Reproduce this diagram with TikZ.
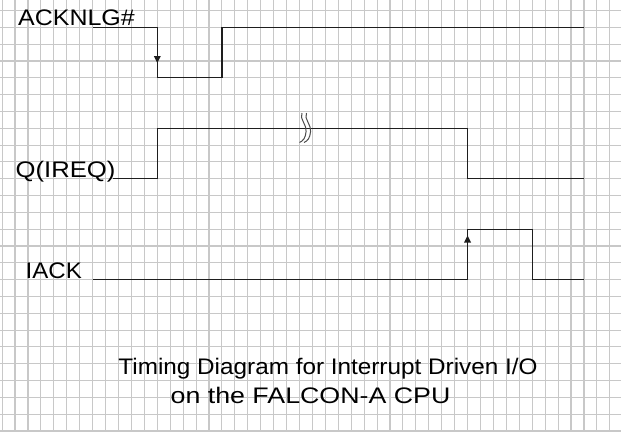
\documentclass[tikz,border=0pt]{standalone}
\usepackage{fontspec}
\usepackage{graphicx}
\setmainfont{Liberation Sans}
\definecolor{gridc}{RGB}{200,200,200}
\definecolor{sigc}{RGB}{30,30,30}
\tikzset{
  gridline/.style={draw=gridc, line width=1.1pt},
  signal/.style={draw=sigc, line width=1.3pt},
  lbl/.style={anchor=base west, inner sep=0pt, font=\fontsize{22.5}{27}\selectfont},
  ttl/.style={anchor=base, inner sep=0pt, font=\fontsize{22.5}{27}\selectfont},
  edgearrow/.style={fill=sigc, draw=none},
  squig/.style={draw=black!70, line width=1pt}
}
\begin{document}
\begin{tikzpicture}[x=1pt,y=-1pt]
\useasboundingbox (0,0) rectangle (621,432);
\fill[white] (0,0) rectangle (621,432);
% grid
\foreach \k in {0,...,47} { \draw[gridline] ({2.1+12.93*\k},0) -- ({2.1+12.93*\k},432); }
\foreach \k in {0,...,25} { \draw[gridline] (0,{10.5+16.82*\k}) -- (621,{10.5+16.82*\k}); }
% labels
\node[lbl] (ackl) at (18,25.7) {\scalebox{1.11}[1]{ACKNLG\#}};
\node[lbl] (ql) at (15.5,177.3) {\scalebox{1.14}[1]{Q(IREQ)}};
\node[lbl] (ial) at (25.5,278) {\scalebox{1.07}[1]{IACK}};
\node[ttl] (t1) at (328,374) {\scalebox{1.08}[1]{Timing Diagram for Interrupt Driven I/O}};
\node[ttl] (t2) at (310.5,403) {\scalebox{1.19}[1]{on the FALCON-A CPU}};
% ACKNLG#
\coordinate (a0) at (92.6,27.3);
\coordinate (a1) at (157.3,27.3);
\coordinate (a2) at (157.3,77.8);
\coordinate (a3) at (221.9,77.8);
\coordinate (a4) at (221.9,27.3);
\coordinate (a5) at (583.9,27.3);
\draw[signal] (a0) -- (a1) -- (a2) -- (a3) -- (a4) -- (a5);
\fill[edgearrow] (153.8,56) -- (160.8,56) -- (157.3,63) -- cycle;
% Q(IREQ)
\coordinate (q0) at (113,178.7);
\coordinate (q1) at (157.3,178.7);
\coordinate (q2) at (157.3,128.2);
\coordinate (q3) at (467.6,128.2);
\coordinate (q4) at (467.6,178.7);
\coordinate (q5) at (583.9,178.7);
\draw[signal] (q0) -- (q1) -- (q2) -- (q3) -- (q4) -- (q5);
\foreach \x in {302,306.5} {
  \draw[squig] (\x,113) .. controls (\x-3,119) and (\x+5,124) .. (\x+4,132)
     .. controls (\x+3.5,138) and (\x+1,141) .. (\x-2.5,142.5);
}
% IACK
\coordinate (i0) at (92.6,279.6);
\coordinate (i1) at (467.6,279.6);
\coordinate (i2) at (467.6,229.2);
\coordinate (i3) at (532.2,229.2);
\coordinate (i4) at (532.2,279.6);
\coordinate (i5) at (583.9,279.6);
\draw[signal] (i0) -- (i1) -- (i2) -- (i3) -- (i4) -- (i5);
\fill[edgearrow] (464.1,242.5) -- (471.1,242.5) -- (467.6,235.5) -- cycle;
\end{tikzpicture}
\end{document}
